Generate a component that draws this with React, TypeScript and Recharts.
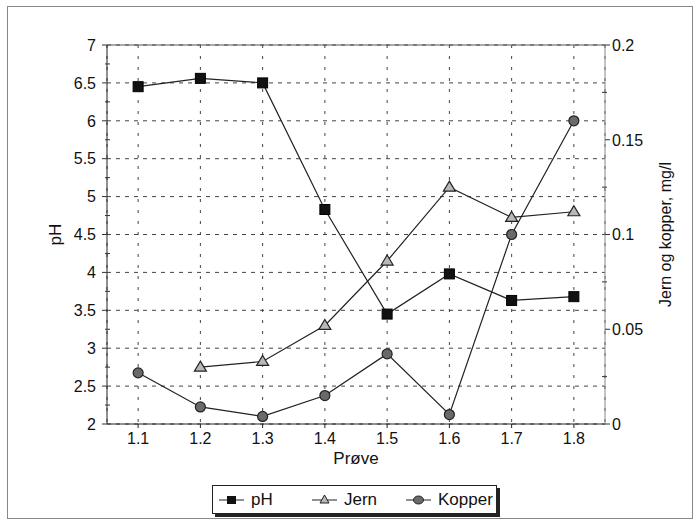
import React from 'react'
import { LineChart, Line, XAxis, YAxis, CartesianGrid, Legend, ReferenceLine, Label } from 'recharts'

const categories = ['1.1', '1.2', '1.3', '1.4', '1.5', '1.6', '1.7', '1.8']
const seriesNames = ['pH', 'Jern', 'Kopper']
const phValues = [6.45, 6.56, 6.5, 4.83, 3.45, 3.98, 3.63, 3.68]
const jernValues = [null, 0.03, 0.033, 0.052, 0.086, 0.125, 0.109, 0.112]
const kopperValues = [0.027, 0.009, 0.004, 0.015, 0.037, 0.005, 0.1, 0.16]

const leftTicks = [2, 2.25, 2.5, 2.75, 3, 3.25, 3.5, 3.75, 4, 4.25, 4.5, 4.75, 5, 5.25, 5.5, 5.75, 6, 6.25, 6.5, 6.75, 7]
const leftMajor = [2, 2.5, 3, 3.5, 4, 4.5, 5, 5.5, 6, 6.5, 7]
const rightTicks = [0, 0.025, 0.05, 0.075, 0.1, 0.125, 0.15, 0.175, 0.2]
const rightMajor = [0, 0.05, 0.1, 0.15, 0.2]

const data = categories.map((prove, i) => ({
  prove,
  pH: phValues[i],
  Jern: jernValues[i],
  Kopper: kopperValues[i],
}))

const font = '"Liberation Sans", Arial, sans-serif'

const SquareDot = (props: any) => {
  const { cx, cy, index } = props
  if (cx == null || cy == null) return null
  return <rect key={`sq-${index}`} x={cx - 5} y={cy - 5} width={10} height={10} fill="#111" stroke="#000" strokeWidth={1} />
}

const TriangleDot = (props: any) => {
  const { cx, cy, index, value } = props
  if (cx == null || cy == null || value == null) return null
  return (
    <polygon
      key={`tr-${index}`}
      points={`${cx},${cy - 6} ${cx + 6},${cy + 4} ${cx - 6},${cy + 4}`}
      fill="#b8b8b8"
      stroke="#222"
      strokeWidth={1.2}
    />
  )
}

const CircleDot = (props: any) => {
  const { cx, cy, index } = props
  if (cx == null || cy == null) return null
  return <circle key={`ci-${index}`} cx={cx} cy={cy} r={5} fill="#6a6a6a" stroke="#222" strokeWidth={1.2} />
}

const LeftTick = (props: any) => {
  const { x, y, payload } = props
  const v = payload.value
  const major = leftMajor.includes(v)
  if (!major) return <line x1={x - 2} x2={x + 3} y1={y} y2={y} stroke="#333" strokeWidth={1} />
  return (
    <g>
      <line x1={x - 5} x2={x} y1={y} y2={y} stroke="#333" strokeWidth={1} />
      <text x={x - 11} y={y} dy="0.36em" textAnchor="end" fontSize={16} fontFamily={font} fill="#111">
        {String(v)}
      </text>
    </g>
  )
}

const RightTick = (props: any) => {
  const { x, y, payload } = props
  const v = payload.value
  const major = rightMajor.includes(v)
  if (!major) return <line x1={x - 3} x2={x + 2} y1={y} y2={y} stroke="#333" strokeWidth={1} />
  return (
    <g>
      <line x1={x} x2={x + 5} y1={y} y2={y} stroke="#333" strokeWidth={1} />
      <text x={x + 7} y={y} dy="0.36em" textAnchor="start" fontSize={16} fontFamily={font} fill="#111">
        {String(v)}
      </text>
    </g>
  )
}

const legendOffsets = [6, 99, 193]

const LegendMarker = ({ name }: { name: string }) => {
  if (name === 'pH') return <rect x={8} y={3} width={9} height={8} fill="#111" />
  if (name === 'Jern') return <polygon points="12.5,2 17,10 8,10" fill="#b8b8b8" stroke="#222" strokeWidth={1} />
  return <ellipse cx={12.5} cy={7} rx={5} ry={4} fill="#6a6a6a" stroke="#222" strokeWidth={1} />
}

const renderLegend = (props: any) => {
  const payload = [...(props.payload || [])].sort(
    (a: any, b: any) => seriesNames.indexOf(a.value) - seriesNames.indexOf(b.value),
  )
  return (
    <div
      style={{
        position: 'relative',
        width: 285,
        height: 29,
        boxSizing: 'border-box',
        border: '1px solid #222',
        background: '#fff',
        boxShadow: '3px 3px 0 #222',
        fontFamily: font,
        fontSize: 17,
        color: '#111',
      }}
    >
      {payload.map((entry: any, i: number) => (
        <div
          key={entry.value}
          style={{ position: 'absolute', left: legendOffsets[i], top: 0, height: 27, display: 'flex', alignItems: 'center' }}
        >
          <svg width={25} height={14} style={{ marginRight: 7 }}>
            <line x1={0} x2={25} y1={7} y2={7} stroke="#222" strokeWidth={1} />
            <LegendMarker name={entry.value} />
          </svg>
          <span>{entry.value}</span>
        </div>
      ))}
    </div>
  )
}

const LeftTitle = (props: any) => {
  const { viewBox } = props
  const x = viewBox.x + 55
  const y = viewBox.y + viewBox.height / 2
  return (
    <text x={x} y={y} transform={`rotate(-90 ${x} ${y})`} textAnchor="middle" dy="0.36em" fontSize={17} fontFamily={font} fill="#111">
      pH
    </text>
  )
}

const RightTitle = (props: any) => {
  const { viewBox } = props
  const x = viewBox.x + 60
  const y = viewBox.y + viewBox.height / 2
  return (
    <text x={x} y={y} transform={`rotate(-90 ${x} ${y})`} textAnchor="middle" dy="0.36em" fontSize={16} fontFamily={font} fill="#111">
      Jern og kopper, mg/l
    </text>
  )
}

export default function App() {
  return (
    <div style={{ position: 'absolute', left: 0, top: 0, width: 700, height: 524, background: '#fff' }}>
      <div
        style={{ position: 'absolute', left: 7, top: 6, width: 686, height: 513, border: '1px solid #888', boxSizing: 'border-box' }}
      />
      <div style={{ position: 'absolute', left: 0, top: 0 }}>
        <LineChart width={700} height={524} data={data} margin={{ top: 45, right: 0, bottom: 0, left: 0 }}>
          <CartesianGrid yAxisId="left" vertical={false} horizontalValues={leftMajor} stroke="#444" strokeDasharray="4 5" />
          <CartesianGrid yAxisId="left" horizontal={false} stroke="#444" strokeDasharray="3 8" />
          <XAxis
            dataKey="prove"
            scale="band"
            height={100}
            tickSize={4}
            tickMargin={5}
            stroke="#222"
            tick={{ fontSize: 16, fontFamily: font, fill: '#111' }}
            interval={0}
          >
            <Label value="Prøve" position="insideTop" offset={28} fontSize={17} fontFamily={font} fill="#111" />
          </XAxis>
          <YAxis
            yAxisId="left"
            width={107}
            domain={[2, 7]}
            ticks={leftTicks}
            interval={0}
            tickSize={0}
            tickMargin={0}
            tickLine={false}
            tick={<LeftTick />}
            stroke="#222"
            label={<LeftTitle />}
          />
          <YAxis
            yAxisId="right"
            orientation="right"
            width={95}
            domain={[0, 0.2]}
            ticks={rightTicks}
            interval={0}
            tickSize={0}
            tickMargin={0}
            tickLine={false}
            tick={<RightTick />}
            stroke="#888"
            label={<RightTitle />}
          />
          <ReferenceLine yAxisId="left" y={7} stroke="#555" strokeWidth={1.2} />
          <Line yAxisId="left" dataKey="pH" name="pH" stroke="#222" strokeWidth={1.2} dot={SquareDot} isAnimationActive={false} />
          <Line yAxisId="right" dataKey="Jern" name="Jern" stroke="#222" strokeWidth={1.2} dot={TriangleDot} isAnimationActive={false} />
          <Line yAxisId="right" dataKey="Kopper" name="Kopper" stroke="#222" strokeWidth={1.2} dot={CircleDot} isAnimationActive={false} />
          <Legend
            layout="horizontal"
            verticalAlign="middle"
            align="center"
            content={renderLegend}
            wrapperStyle={{ position: 'absolute', left: 212, top: 485, width: 285, height: 29 }}
          />
        </LineChart>
      </div>
    </div>
  )
}
